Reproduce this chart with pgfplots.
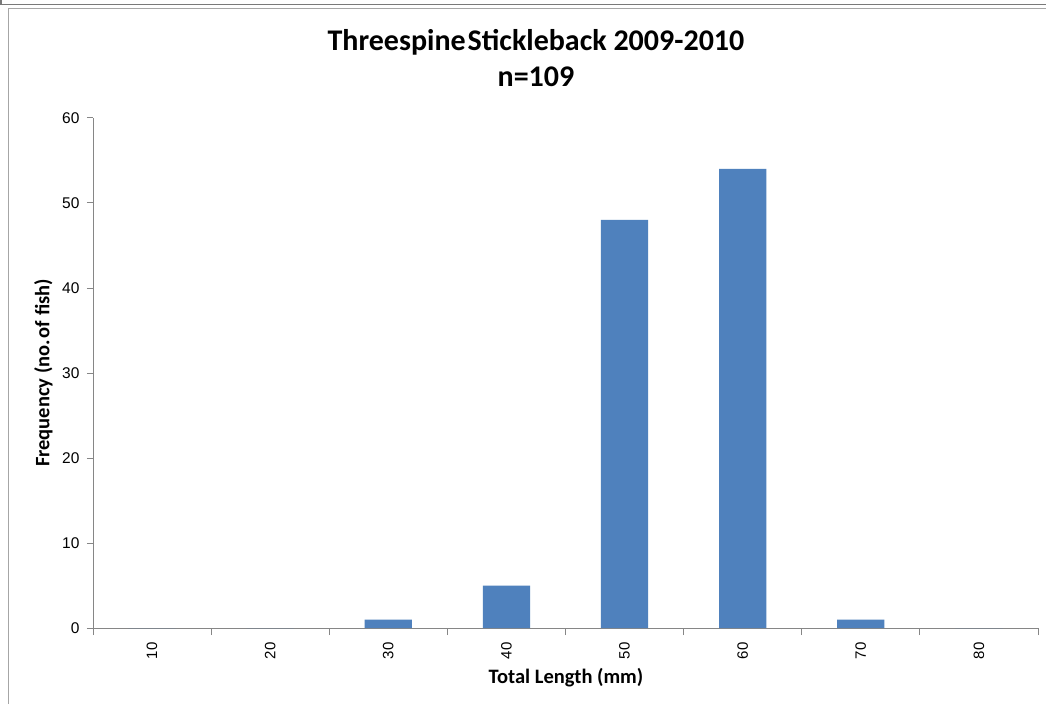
\documentclass[border=0pt]{standalone}
\usepackage{pgfplots}
\pgfplotsset{compat=1.18}
\usepackage{fontspec}
\setmainfont{Carlito}
\newfontfamily\arialf{Liberation Sans}
\definecolor{barblue}{HTML}{4F81BD}
\definecolor{axgrey}{HTML}{868686}
\begin{document}
\begin{tikzpicture}
\useasboundingbox (0pt,0pt) rectangle (1046pt,704pt);
\fill[white] (0pt,0pt) rectangle (1046pt,704pt);
% frame lines
\draw[color=gray!95!black, line width=1.6pt] (0pt,699.5pt) -- (1046pt,699.5pt);
\draw[color=gray!95!black, line width=1.6pt] (0.8pt,704pt) -- (0.8pt,699.5pt);
\draw[color=gray!70, line width=1.2pt] (8.5pt,0pt) -- (8.5pt,695.5pt) -- (1046pt,695.5pt);
\begin{axis}[
  at={(93pt,76pt)}, anchor=south west,
  scale only axis, width=945pt, height=510pt,
  xmin=-0.5, xmax=7.5, ymin=0, ymax=60,
  axis lines*=left,
  axis line style={color=axgrey, line width=1pt},
  ybar, bar width=0.4,
  xtick={0,...,7},
  xticklabels={10,20,30,40,50,60,70,80},
  minor xtick={-0.5,0.5,...,7.5},
  major x tick style={draw=none},
  minor x tick style={color=axgrey, line width=1pt},
  ytick={0,10,...,60},
  y tick style={color=axgrey, line width=1pt},
  tick align=outside,
  major tick length=6pt, minor tick length=7pt,
  x tick label style={rotate=90, anchor=east, font=\arialf\fontsize{15}{16}\selectfont, xshift=-5pt},
  y tick label style={font=\arialf\fontsize{15.5}{16}\selectfont, xshift=-4pt},
  /pgf/number format/assume math mode=true,
  clip=false,
]
\addplot[fill=barblue, draw=none] coordinates {(0,0) (1,0) (2,1) (3,5) (4,48) (5,54) (6,1) (7,0)};
\end{axis}
\node[font=\bfseries\fontsize{30}{32}\selectfont, anchor=base] at (536pt,653pt) {Threespine\hspace{2pt}Stickleback 2009-2010};
\node[font=\bfseries\fontsize{30}{32}\selectfont, anchor=base] at (536pt,617pt) {n=109};
\node[font=\bfseries\fontsize{20.5}{22}\selectfont, anchor=base] at (566pt,21pt) {Total Length (mm)};
\node[font=\bfseries\fontsize{20.5}{22}\selectfont, rotate=90] at (43.5pt,331pt) {Frequency (no.\hspace{2pt}of fish)};
\end{tikzpicture}
\end{document}
